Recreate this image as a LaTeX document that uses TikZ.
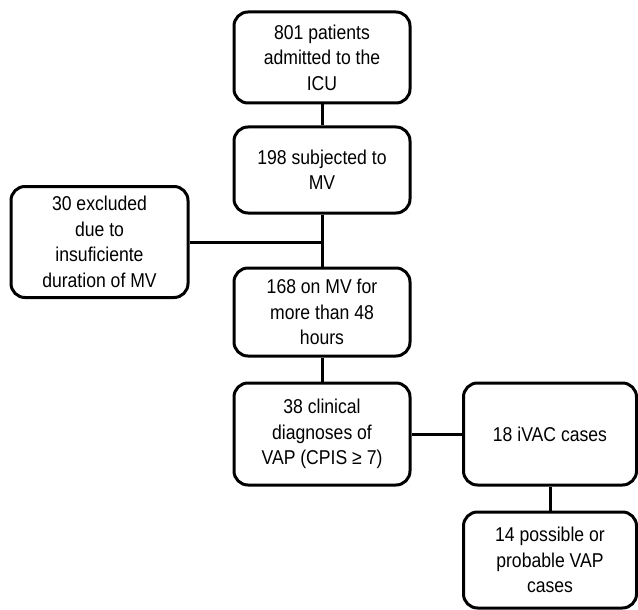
\documentclass[tikz,border=0pt]{standalone}
\usepackage{fontspec}
\setmainfont{Liberation Sans}[FakeStretch=0.88]
\begin{document}
\begin{tikzpicture}[x=1pt,y=-1pt,
  box/.style={draw,line width=3pt,rounded corners=14pt,align=center,inner sep=0pt,
    font=\fontsize{20}{25.5}\selectfont},
  conn/.style={line width=3pt}]
\useasboundingbox (0,0) rectangle (638,610);
\node[box,minimum width=176pt,minimum height=91pt] (a) at (322,57.5) {801 patients\\admitted to the\\ICU};
\node[box,minimum width=176pt,minimum height=86pt] (b) at (322,170) {198 subjected to\\MV};
\node[box,minimum width=177pt,minimum height=111pt] (x) at (99.5,242) {30 excluded\\due to\\insuficiente\\duration of MV};
\node[box,minimum width=176pt,minimum height=88pt] (c) at (322,312) {168 on MV for\\more than 48\\hours};
\node[box,minimum width=176pt,minimum height=102pt] (d) at (322,434) {38 clinical\\diagnoses of\\VAP (CPIS ≥ 7)};
\node[box,minimum width=173pt,minimum height=102pt] (e) at (550,434) {18 iVAC cases};
\node[box,minimum width=173pt,minimum height=96pt] (f) at (550,560) {14 possible or\\probable VAP\\cases};
\draw[conn] (a) -- (b);
\draw[conn] (b) -- (c);
\coordinate (j) at (b.south |- x.east);
\draw[conn] (x.east) -- (j);
\draw[conn] (c) -- (d);
\draw[conn] (d) -- (e);
\draw[conn] (e) -- (f);
\end{tikzpicture}
\end{document}
